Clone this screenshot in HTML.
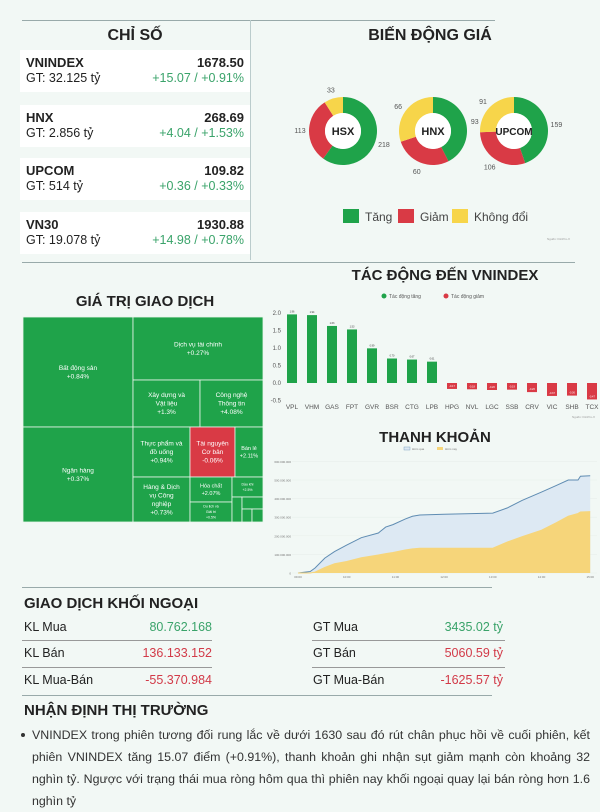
<!DOCTYPE html>
<html><head><meta charset="utf-8">
<style>
*{margin:0;padding:0;box-sizing:border-box}
body{width:600px;height:800px;background:#f2f8f5;font-family:"Liberation Sans",sans-serif;position:relative;overflow:hidden;color:#222}
.abs{position:absolute}
.card{position:absolute;left:20px;width:230px;height:42px;background:#fff}
.card .n{position:absolute;left:6px;top:5px;font-size:13px;font-weight:bold}
.card .g{position:absolute;left:6px;top:21px;font-size:12.5px}
.card .v{position:absolute;right:6px;top:5px;font-size:13px;font-weight:bold}
.card .c{position:absolute;right:6px;top:21px;font-size:12.5px;color:#3aa36a}
.title{position:absolute;font-weight:bold;font-size:16px;text-align:center}
.row{position:absolute;font-size:12.5px}
.pl{height:22px;white-space:nowrap;text-align:justify;text-align-last:justify}
</style></head><body>
<div class="abs" style="left:22px;top:20px;width:473px;height:1px;background:#9aa"></div>
<div class="abs" style="left:250px;top:20px;width:1px;height:240px;background:#bcc"></div>
<div class="title" style="left:20px;width:230px;top:27px">CHỈ SỐ</div>
<div class="card" style="top:50px"><span class="n">VNINDEX</span><span class="g">GT: 32.125 tỷ</span><span class="v">1678.50</span><span class="c">+15.07 / +0.91%</span></div>
<div class="card" style="top:105px"><span class="n">HNX</span><span class="g">GT: 2.856 tỷ</span><span class="v">268.69</span><span class="c">+4.04 / +1.53%</span></div>
<div class="card" style="top:158px"><span class="n">UPCOM</span><span class="g">GT: 514 tỷ</span><span class="v">109.82</span><span class="c">+0.36 / +0.33%</span></div>
<div class="card" style="top:212px"><span class="n">VN30</span><span class="g">GT: 19.078 tỷ</span><span class="v">1930.88</span><span class="c">+14.98 / +0.78%</span></div>
<div class="title" style="left:300px;width:260px;top:27px">BIẾN ĐỘNG GIÁ</div>
<svg class="abs" style="left:0;top:0" width="600" height="800" id="svg"></svg>
<div class="abs" style="left:22px;top:262px;width:553px;height:1px;background:#9aa"></div>
<div class="title" style="left:20px;width:250px;top:293px;font-size:15px">GIÁ TRỊ GIAO DỊCH</div>
<div class="title" style="left:300px;width:290px;top:267px;font-size:15px">TÁC ĐỘNG ĐẾN VNINDEX</div>
<div class="title" style="left:320px;width:230px;top:429px;font-size:15px">THANH KHOẢN</div>
<div class="abs" style="left:22px;top:587px;width:470px;height:1px;background:#9aa"></div>
<div class="abs" style="left:24px;top:595px;font-size:15px;font-weight:bold">GIAO DỊCH KHỐI NGOẠI</div>
<div class="row" style="left:24px;top:620px">KL Mua</div>
<div class="row" style="right:388px;top:620px;color:#3aa36a">80.762.168</div>
<div class="row" style="left:24px;top:646px">KL Bán</div>
<div class="row" style="right:388px;top:646px;color:#d23a48">136.133.152</div>
<div class="row" style="left:24px;top:673px">KL Mua-Bán</div>
<div class="row" style="right:388px;top:673px;color:#d23a48">-55.370.984</div>
<div class="row" style="left:313px;top:620px">GT Mua</div>
<div class="row" style="right:97px;top:620px;color:#3aa36a">3435.02 tỷ</div>
<div class="row" style="left:313px;top:646px">GT Bán</div>
<div class="row" style="right:97px;top:646px;color:#d23a48">5060.59 tỷ</div>
<div class="row" style="left:313px;top:673px">GT Mua-Bán</div>
<div class="row" style="right:97px;top:673px;color:#d23a48">-1625.57 tỷ</div>
<div class="abs" style="left:22px;top:640px;width:190px;height:1px;background:#999"></div>
<div class="abs" style="left:22px;top:667px;width:190px;height:1px;background:#999"></div>
<div class="abs" style="left:312px;top:640px;width:193px;height:1px;background:#999"></div>
<div class="abs" style="left:312px;top:667px;width:193px;height:1px;background:#999"></div>
<div class="abs" style="left:22px;top:695px;width:470px;height:1px;background:#9aa"></div>
<div class="abs" style="left:24px;top:702px;font-size:15px;font-weight:bold">NHẬN ĐỊNH THỊ TRƯỜNG</div>
<div class="abs" style="left:32px;top:724px;width:558px;font-size:12.4px;line-height:22px;color:#333">
<div class="pl">VNINDEX trong phiên tương đối rung lắc về dưới 1630 sau đó rút chân phục hồi về cuối phiên, kết</div>
<div class="pl">phiên VNINDEX tăng 15.07 điểm (+0.91%), thanh khoản ghi nhận sụt giảm mạnh còn khoảng 32</div>
<div class="pl">nghìn tỷ. Ngược với trạng thái mua ròng hôm qua thì phiên nay khối ngoại quay lại bán ròng hơn 1.6</div>
<div style="height:22px">nghìn tỷ</div>
</div>
<div class="abs" style="left:21px;top:733px;width:4px;height:4px;border-radius:2px;background:#333"></div>
<script>
const NS="http://www.w3.org/2000/svg";const svg=document.getElementById('svg');
function mk(t,a,p){const e=document.createElementNS(NS,t);for(const k in a)e.setAttribute(k,a[k]);(p||svg).appendChild(e);return e;}
function txt(x,y,s,a){const e=mk('text',Object.assign({x:x,y:y},a||{}));e.textContent=s;return e;}
const GREEN='#1fa34a',RED='#d93a45',YEL='#f7d54a';
// Donuts
const exchanges=['HSX','HNX','UPCOM'];
const upCounts=[218,93,159];
const downCounts=[113,60,106];
const flatCounts=[33,66,91];
const cx=[343,433,514];
exchanges.forEach((ex,i)=>{
  const vals=[upCounts[i],downCounts[i],flatCounts[i]],cols=[GREEN,RED,YEL];
  const tot=vals.reduce((a,b)=>a+b,0);let a0=-Math.PI/2;const R=34,r=18,c=cx[i],cy=131;
  vals.forEach((v,j)=>{const a1=a0+v/tot*2*Math.PI;const lg=(a1-a0)>Math.PI?1:0;
    const p=`M${c+R*Math.cos(a0)},${cy+R*Math.sin(a0)}A${R},${R} 0 ${lg} 1 ${c+R*Math.cos(a1)},${cy+R*Math.sin(a1)}L${c+r*Math.cos(a1)},${cy+r*Math.sin(a1)}A${r},${r} 0 ${lg} 0 ${c+r*Math.cos(a0)},${cy+r*Math.sin(a0)}Z`;
    const s=mk('path',{d:p,fill:cols[j]});
    
    
    const am=(a0+a1)/2;const l=txt(c+43*Math.cos(am),cy+43*Math.sin(am)+3,v,{'font-size':7,fill:'#555','text-anchor':'middle'});
    
    
    a0=a1;});
  mk('circle',{cx:c,cy:cy,r:r,fill:'#fff'});
  const t=txt(c,cy+4,ex,{'font-size':ex.length>3?10:11,'font-weight':'bold','text-anchor':'middle',fill:'#222'});
  
  
});
[['Tăng',GREEN,343],['Giảm',RED,398],['Không đổi',YEL,452]].forEach(([s,c,x])=>{
  const g=mk('rect',{x:x,y:209,width:16,height:14,fill:c});
  
  
  const t=txt(x+22,221,s,{'font-size':12,fill:'#444'});
  
  
});
txt(570,240,'Nguồn: FiinPro-X',{'font-size':3,fill:'#999','text-anchor':'end'});
// Impact bar chart
const tickers=['VPL','VHM','GAS','FPT','GVR','BSR','CTG','LPB','HPG','NVL','LGC','SSB','CRV','VIC','SHB','TCX'];
const impacts=[1.96,1.94,1.63,1.53,0.99,0.70,0.67,0.61,-0.17,-0.18,-0.20,-0.19,-0.26,-0.37,-0.36,-0.47];
const impactTicks=[2.0,1.5,1.0,0.5,0.0,-0.5];
const by=v=>383-v*35, bx=i=>292+i*20;
impactTicks.forEach(t=>{const e=txt(281,by(t)+2,t.toFixed(1),{'font-size':6,fill:'#555','text-anchor':'end'});});
impacts.forEach((v,i)=>{const y0=by(Math.max(v,0)),h=Math.abs(v)*35;
  const r=mk('rect',{x:bx(i)-5,y:y0,width:10,height:h,fill:v>=0?GREEN:RED});
  
  
  txt(bx(i),v>=0?y0-2:by(v)-2,v.toFixed(2),{'font-size':2.5,fill:v>=0?'#333':'#fff','text-anchor':'middle'});
  const l=txt(bx(i),409,tickers[i],{'font-size':6.5,fill:'#555','text-anchor':'middle'});
  
  
});
mk('circle',{cx:384,cy:296,r:2.5,fill:GREEN});txt(389,298,'Tác động tăng',{'font-size':5,fill:'#555'});
mk('circle',{cx:446,cy:296,r:2.5,fill:RED});txt(451,298,'Tác động giảm',{'font-size':5,fill:'#555'});
txt(595,418,'Nguồn: FiinPro-X',{'font-size':3,fill:'#999','text-anchor':'end'});
// Treemap
const sectors=['Bất động sản','Ngân hàng','Dịch vụ tài chính','Xây dựng và|Vật liệu','Công nghệ|Thông tin','Thực phẩm và|đồ uống','Tài nguyên|Cơ bản','Bán lẻ','Hàng & Dịch|vụ Công|nghiệp','Hóa chất','Du lịch và|Giải trí','Dầu khí'];
const sectorChanges=[0.84,0.37,0.27,1.3,4.08,0.94,-0.06,2.11,0.73,2.07,0.5,2.5];
const boxes=[[23,317,110,110],[23,427,110,95],[133,317,130,63],[133,380,67,47],[200,380,63,47],[133,427,57,50],[190,427,45,50],[235,427,28,50],[133,477,57,45],[190,477,42,25],[190,502,42,20],[232,477,31,20]];
mk('rect',{x:23,y:317,width:240,height:205,rx:5,fill:GREEN});
sectors.forEach((s,i)=>{const [x,y,w,h]=boxes[i];const v=sectorChanges[i];
  const r=mk('rect',{x:x,y:y,width:w,height:h,fill:v<0?RED:GREEN,stroke:'#e9f5ec','stroke-width':0.8});
  
  
  const lines=s.split('|');lines.push((v>=0?'+':'')+v+'%');
  const fs=w<45?(h<22?3.5:5.5):6.5;const lh=fs+2;const sy=y+h/2-(lines.length-1)*lh/2+fs/3;
  lines.forEach((ln,k)=>txt(x+w/2,sy+k*lh,ln,{'font-size':fs,fill:'#fff','text-anchor':'middle'}));
});
[[232,497,10,25],[242,497,21,12],[242,509,10,13],[252,509,11,13]].forEach(b=>mk('rect',{x:b[0],y:b[1],width:b[2],height:b[3],fill:GREEN,stroke:'#e9f5ec','stroke-width':0.8}));
// Liquidity chart
const times=[9.0,9.25,9.35,9.55,9.75,10.0,10.3,10.65,10.8,10.95,11.2,11.35,11.5,12.0,13.0,13.3,13.6,14.0,14.3,14.55,14.75,14.8,15.0];
const volYesterday=[0,8,27,80,115,150,190,215,247,260,290,305,312,316,322,350,390,435,470,500,500,520,523];
const volToday=[0,0,5,30,50,62,82,97,104,110,124,130,133,133,133,167,195,230,270,305,320,328,330];
const volTicks=[0,100,200,300,400,500,600];
const timeTicks=['09:00','10:00','11:00','12:00','13:00','14:00','15:00'];
const lx=t=>298+(t-9)*48.7, ly=v=>573-v*0.186;
volTicks.forEach(t=>{const e=txt(291,ly(t)+1.5,t?t+'.000.000':'0',{'font-size':3,fill:'#777','text-anchor':'end'});
  mk('line',{x1:292,x2:597,y1:ly(t),y2:ly(t),stroke:'#e3ebe6','stroke-width':0.4});});
timeTicks.forEach((t,i)=>{const e=txt(lx(9+i),578,t,{'font-size':3,fill:'#777','text-anchor':'middle'});});
function area(vals,fill,stroke,name){let d=`M${lx(times[0])},${ly(0)}`;vals.forEach((v,i)=>d+=`L${lx(times[i])},${ly(v)}`);d+=`L${lx(times[times.length-1])},${ly(0)}Z`;
  const a=mk('path',{d:d,fill:fill});
  const l=mk('polyline',{points:vals.map((v,i)=>lx(times[i])+','+ly(v)).join(' '),fill:'none',stroke:stroke,'stroke-width':1});}
area(volYesterday,'#dde9f3','#5f8cb2','yesterday');
area(volToday,'#f6d57a','#f6d57a','today');
mk('rect',{x:404,y:447,width:6,height:3,fill:'#dde9f3',stroke:'#6c95b8','stroke-width':0.4});txt(412,450,'Hôm qua',{'font-size':3,fill:'#777'});
mk('rect',{x:437,y:447,width:6,height:3,fill:'#f6d57a'});txt(445,450,'Hôm nay',{'font-size':3,fill:'#777'});
</script>
</body></html>
